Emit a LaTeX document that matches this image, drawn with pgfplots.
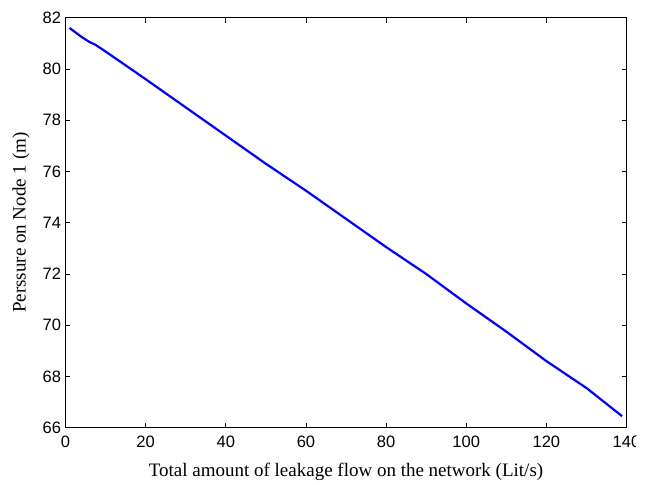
\documentclass[border=0pt]{standalone}
\usepackage{fontspec}
\setmainfont{Liberation Serif}
\newfontfamily\arialfont{Liberation Sans}
\usepackage{pgfplots}
\pgfplotsset{compat=1.18}

\begin{document}
\begin{tikzpicture}
\begin{axis}[
    scale only axis,
    width=561pt,
    height=410pt,
    xmin=0, xmax=140,
    ymin=66, ymax=82,
    xtick={0,20,...,140},
    ytick={66,68,...,82},
    tick align=inside,
    major tick length=5pt,
    axis line style={line width=0.8pt},
    every tick/.style={black, line width=0.8pt},
    tick label style={font=\fontsize{16.5}{18}\selectfont\arialfont},
    /pgf/number format/assume math mode=true,
    xticklabel style={yshift=-5pt},
    yticklabel style={xshift=-1pt},
    label style={font=\fontsize{19}{22}\selectfont},
    xlabel={Total amount of leakage flow on the network (Lit/s)},
    ylabel={Perssure on Node 1 (m)},
    xlabel style={yshift=-8pt},
    ylabel style={yshift=6pt},
]
\addplot[color={rgb,255:red,0;green,0;blue,255}, line width=2.2pt] coordinates {
    (1,81.60) (4,81.25) (6,81.05) (7.4,80.95) (10,80.68)
    (20,79.60) (30,78.50) (40,77.40) (50,76.30) (60,75.25)
    (70,74.15) (80,73.05) (90,72.00) (100,70.85) (110,69.75)
    (120,68.60) (130,67.55) (138.9,66.45)
};
\end{axis}
% the reference picture is cut just after "14"
\fill[white] (570.5pt,-57.3pt) rectangle (581pt,-8pt);
\pgfresetboundingbox
\useasboundingbox (-65.5pt,-57.3pt) rectangle (580.5pt,427.7pt);
\end{tikzpicture}
\end{document}
